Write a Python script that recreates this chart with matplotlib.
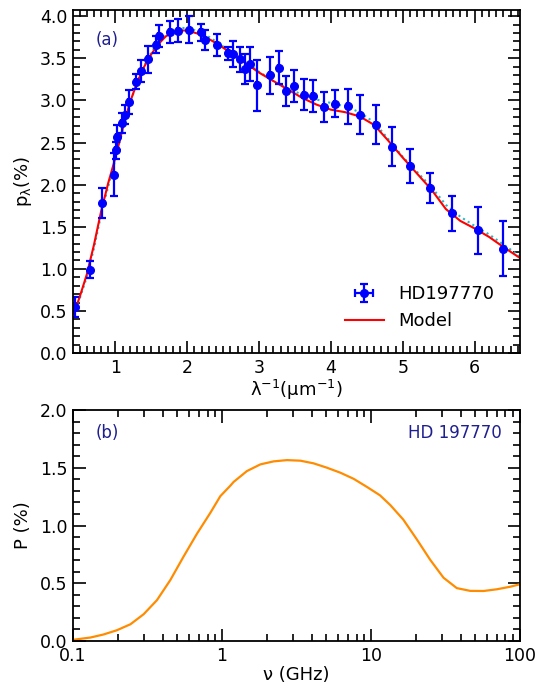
import numpy as np
from matplotlib import pyplot as plt
from matplotlib.ticker import MultipleLocator, FixedLocator, FixedFormatter, LogLocator, NullFormatter

# --- panel (a): polarization data for HD197770
lam_inv = [0.44, 0.64, 0.82, 0.98, 1.01, 1.02, 1.09, 1.14, 1.19, 1.28, 1.36, 1.45, 1.56, 1.60,
           1.76, 1.87, 2.03, 2.19, 2.24, 2.41, 2.57, 2.63, 2.74, 2.81, 2.88, 2.97, 3.15, 3.27,
           3.38, 3.49, 3.62, 3.75, 3.90, 4.05, 4.24, 4.41, 4.63, 4.85, 5.10, 5.38, 5.68, 6.04, 6.40]
p_obs = [0.55, 0.99, 1.78, 2.12, 2.41, 2.56, 2.73, 2.83, 2.98, 3.22, 3.35, 3.49, 3.66, 3.77,
         3.81, 3.83, 3.84, 3.81, 3.72, 3.66, 3.56, 3.55, 3.49, 3.37, 3.43, 3.18, 3.30, 3.39,
         3.11, 3.17, 3.07, 3.05, 2.92, 2.96, 2.93, 2.83, 2.71, 2.45, 2.22, 1.96, 1.66, 1.46, 1.24]
p_err = [0.12, 0.10, 0.18, 0.25, 0.10, 0.15, 0.12, 0.11, 0.14, 0.09, 0.13, 0.16, 0.10, 0.13,
         0.13, 0.14, 0.16, 0.10, 0.12, 0.13, 0.08, 0.15, 0.15, 0.18, 0.20, 0.30, 0.22, 0.20,
         0.18, 0.19, 0.18, 0.19, 0.18, 0.16, 0.21, 0.23, 0.23, 0.23, 0.20, 0.18, 0.21, 0.28, 0.33]
lam_err = [0.01] * len(lam_inv)

# model curves
x_mod = [0.42, 0.5, 0.6, 0.7, 0.8, 0.9, 1.0, 1.1, 1.2, 1.3, 1.4, 1.5, 1.6, 1.7, 1.8, 1.9, 2.0,
         2.2, 2.4, 2.6, 2.8, 3.0, 3.2, 3.4, 3.6, 3.8, 4.0, 4.2, 4.4, 4.6, 4.8, 5.0, 5.2, 5.4,
         5.6, 5.8, 6.0, 6.2, 6.4, 6.63]
p_model = [0.47, 0.66, 0.93, 1.28, 1.68, 2.02, 2.32, 2.66, 2.97, 3.21, 3.40, 3.55, 3.67, 3.76,
           3.81, 3.83, 3.83, 3.78, 3.68, 3.57, 3.45, 3.33, 3.23, 3.13, 3.03, 2.95, 2.89, 2.86,
           2.81, 2.71, 2.52, 2.32, 2.13, 1.94, 1.71, 1.57, 1.48, 1.38, 1.26, 1.13]
p_model2 = [0.47, 0.64, 0.90, 1.24, 1.64, 1.98, 2.30, 2.64, 2.96, 3.21, 3.41, 3.57, 3.70, 3.79,
            3.84, 3.86, 3.86, 3.81, 3.70, 3.58, 3.46, 3.34, 3.23, 3.14, 3.07, 3.01, 2.97, 2.93,
            2.86, 2.74, 2.54, 2.33, 2.15, 1.97, 1.76, 1.62, 1.51, 1.41, 1.29, 1.15]

# --- panel (b): radio polarization
nu = [0.1, 0.131, 0.160, 0.197, 0.243, 0.298, 0.366, 0.450, 0.552, 0.679, 0.834, 0.975,
      1.137, 1.197, 1.47, 1.81, 2.22, 2.73, 3.36, 4.12, 5.07, 6.23, 7.65, 9.39, 11.5, 13.5,
      16.5, 20.4, 25.0, 30.7, 37.7, 46.4, 57.0, 70.1, 86.1, 100.0]
P_nu = [0.01, 0.03, 0.056, 0.093, 0.145, 0.232, 0.354, 0.528, 0.731, 0.929, 1.109, 1.255,
        1.345, 1.378, 1.472, 1.53, 1.556, 1.567, 1.562, 1.539, 1.501, 1.458, 1.405, 1.335,
        1.262, 1.177, 1.051, 0.877, 0.703, 0.548, 0.458, 0.434, 0.433, 0.448, 0.470, 0.491]

plt.rcParams['font.family'] = 'DejaVu Sans'
navy = '#1f1f8f'

fig = plt.figure(figsize=(5.41, 6.87), dpi=100)
ax1 = fig.add_axes([0.135, 0.486, 0.826, 0.499])
ax2 = fig.add_axes([0.135, 0.067, 0.826, 0.336])

ax1.plot(x_mod, p_model2, color='#20b8c8', ls=':', lw=1.5)
ax1.plot(x_mod, p_model, color='red', lw=1.5, label='Model')
ax1.errorbar(lam_inv, p_obs, yerr=p_err, xerr=lam_err, fmt='o', color='blue', ms=5.5,
             elinewidth=1.6, capsize=3, capthick=1.6, label='HD197770')
ax1.set_xlim(0.41, 6.63)
ax1.set_ylim(0, 4.07)
ax1.xaxis.set_major_locator(MultipleLocator(1))
ax1.xaxis.set_minor_locator(MultipleLocator(0.1))
ax1.yaxis.set_major_locator(MultipleLocator(0.5))
ax1.yaxis.set_minor_locator(MultipleLocator(0.1))
ax1.yaxis.set_major_formatter(plt.FormatStrFormatter('%.1f'))
ax1.set_xlabel(r'λ$^{\mathregular{-1}}$(μm$^{\mathregular{-1}}$)', fontsize=13, labelpad=1)
ax1.set_ylabel(r'p$_\mathregular{λ}$(%)', fontsize=13, labelpad=4)
ax1.text(0.05, 0.94, '(a)', transform=ax1.transAxes, color=navy, fontsize=12, va='top')
h, l = ax1.get_legend_handles_labels()
ax1.legend([h[1], h[0]], [l[1], l[0]], loc='lower right', bbox_to_anchor=(0.98, 0.02),
           frameon=False, fontsize=13, handlelength=2.2, labelspacing=0.5)

ax2.plot(nu, P_nu, color='#ff8c00', lw=1.6)
ax2.set_xscale('log')
ax2.set_xlim(0.1, 100)
ax2.set_ylim(0, 2.0)
ax2.xaxis.set_major_locator(FixedLocator([0.1, 1, 10, 100]))
ax2.xaxis.set_major_formatter(FixedFormatter(['0.1', '1', '10', '100']))
ax2.xaxis.set_minor_locator(LogLocator(base=10, subs=np.arange(2, 10)))
ax2.xaxis.set_minor_formatter(NullFormatter())
ax2.yaxis.set_major_locator(MultipleLocator(0.5))
ax2.yaxis.set_minor_locator(MultipleLocator(0.1))
ax2.yaxis.set_major_formatter(plt.FormatStrFormatter('%.1f'))
ax2.set_xlabel('ν (GHz)', fontsize=13, labelpad=1)
ax2.set_ylabel('P (%)', fontsize=13, labelpad=6)
ax2.text(0.05, 0.88, '(b)', transform=ax2.transAxes, color=navy, fontsize=12)
ax2.text(0.96, 0.88, 'HD 197770', transform=ax2.transAxes, color=navy, fontsize=12, ha='right')

for ax in (ax1, ax2):
    for s in ax.spines.values():
        s.set_linewidth(1.3)
    ax.tick_params(which='both', direction='in', top=True, right=True, labelsize=12.5, width=1.2)
    ax.tick_params(which='major', length=9, pad=4)
    ax.tick_params(which='minor', length=5)

fig.savefig('out.png', dpi=100)
